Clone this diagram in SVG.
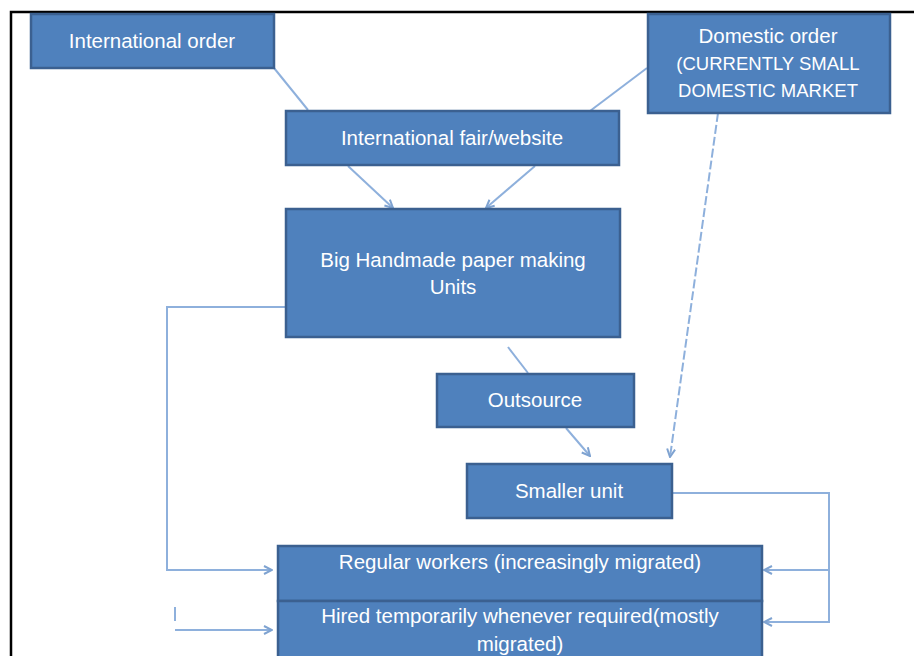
<svg xmlns="http://www.w3.org/2000/svg" width="914" height="656" viewBox="0 0 914 656">
<defs>
<style>
.box{fill:#4f81bd;stroke:#3b6090;stroke-width:2.5}
.t{font-family:"Liberation Sans",Arial,sans-serif;font-size:20.5px;fill:#ffffff;text-anchor:middle}
.s{font-size:18.5px}
.c{fill:none;stroke:#8eb0dc;stroke-width:2}
.d{fill:none;stroke:#8eb0dc;stroke-width:2;stroke-dasharray:9 3}
</style>
<marker id="a" viewBox="0 0 10 10" refX="9" refY="5" markerWidth="10" markerHeight="10" markerUnits="userSpaceOnUse" orient="auto">
<path d="M1,1 L9,5 L1,9" fill="none" stroke="#7fa3d1" stroke-width="2"/>
</marker>
</defs>
<rect width="914" height="656" fill="#ffffff"/>
<path d="M11,656 V12 H914" fill="none" stroke="#000" stroke-width="2.5"/>
<g id="connectors">
<path class="c" d="M274,68 L308,110"/>
<path class="c" d="M647,68 L590,111"/>
<path class="c" d="M348,166 L393,208" marker-end="url(#a)"/>
<path class="c" d="M535,166 L486,208" marker-end="url(#a)"/>
<path class="c" d="M508,347 L528,373"/>
<path class="c" d="M566,428 L590,456" marker-end="url(#a)"/>
<path class="d" d="M718,113 L670,457" marker-end="url(#a)"/>
<path class="c" d="M673,493 H829 V622 H764" marker-end="url(#a)"/>
<path class="c" d="M829,570 H764" marker-end="url(#a)"/>
<path class="c" d="M286,307 H167 V570 H272" marker-end="url(#a)"/>
<path class="c" d="M175,607 V621"/>
<path class="c" d="M175,630 H272" marker-end="url(#a)"/>
</g>
<g id="international-order"><rect class="box" x="31" y="14" width="243" height="54"/><text class="t" x="152" y="48">International order</text></g>
<g id="domestic-order"><rect class="box" x="648" y="14" width="242" height="99"/><text class="t" x="768" y="43">Domestic order</text><text class="t s" x="768" y="70">(CURRENTLY SMALL</text><text class="t s" x="768" y="97">DOMESTIC MARKET</text></g>
<g id="fair"><rect class="box" x="286" y="111" width="333" height="54"/><text class="t" x="452" y="145">International fair/website</text></g>
<g id="big-units"><rect class="box" x="286" y="209" width="334" height="128"/><text class="t" x="453" y="267">Big Handmade paper making</text><text class="t" x="453" y="294">Units</text></g>
<g id="outsource"><rect class="box" x="437" y="374" width="197" height="53"/><text class="t" x="535" y="407">Outsource</text></g>
<g id="smaller-unit"><rect class="box" x="467" y="464" width="205" height="54"/><text class="t" x="569" y="498">Smaller unit</text></g>
<g id="regular-workers"><rect class="box" x="278" y="546" width="484" height="55"/><text class="t" x="520" y="569">Regular workers (increasingly migrated)</text></g>
<g id="hired-temporarily"><rect class="box" x="278" y="601" width="484" height="60"/><text class="t" x="520" y="623">Hired temporarily whenever required(mostly</text><text class="t" x="520" y="651">migrated)</text></g>
</svg>
